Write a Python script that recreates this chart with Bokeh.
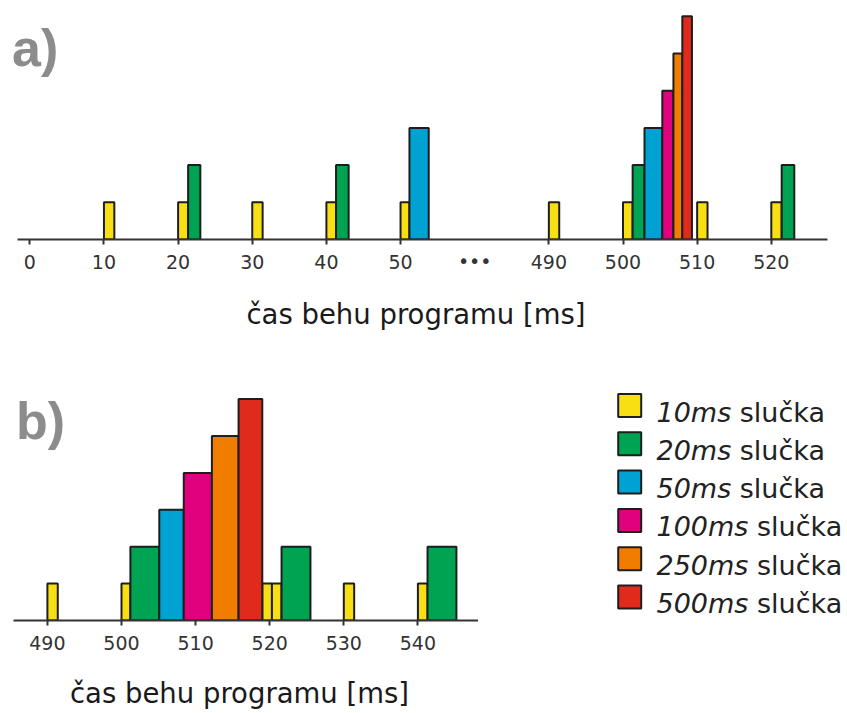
from bokeh.plotting import figure
from bokeh.layouts import column, row
from bokeh.models import ColumnDataSource, FixedTicker, Label, Range1d, LinearAxis
from bokeh.core.properties import value
from bokeh.embed import file_html
from bokeh.resources import INLINE

# ---------------- data ----------------
loop_names = ["10ms", "20ms", "50ms", "100ms", "250ms", "500ms"]
loop_colors = ["#F7DF14", "#00A352", "#00A2D3", "#E1007E", "#F07D00", "#DF2A1C"]
loop_levels = [1, 2, 3, 4, 5, 6]

# panel a) start / end times of each run [ms]
a_10_start = [10.0, 20.0, 30.0, 40.0, 50.0, 490.0, 500.0, 510.0, 520.0]
a_10_end = [11.4, 21.35, 31.4, 41.3, 51.2, 491.4, 501.3, 511.4, 521.4]
a_20_start = [21.35, 41.3, 501.3, 521.4]
a_20_end = [23.0, 43.0, 502.9, 523.1]
a_50_start = [51.2, 502.9]
a_50_end = [53.8, 505.3]
a_100_start = [505.3]
a_100_end = [506.8]
a_250_start = [506.8]
a_250_end = [508.0]
a_500_start = [508.0]
a_500_end = [509.3]
a_ticks = [0, 10, 20, 30, 40, 50, 490, 500, 510, 520]
a_break_real = 490   # first time after the axis break
a_break_shown = 70   # where that time is drawn
a_break_mark = "\u2022\u2022\u2022"

# panel b) start / end times of each run [ms]
b_10_start = [490.0, 500.0, 519.0, 520.3, 530.0, 540.0]
b_10_end = [491.4, 501.2, 520.3, 521.6, 531.4, 541.3]
b_20_start = [501.2, 521.6, 541.3]
b_20_end = [505.1, 525.5, 545.2]
b_50_start = [505.1]
b_50_end = [508.4]
b_100_start = [508.4]
b_100_end = [512.2]
b_250_start = [512.2]
b_250_end = [515.8]
b_500_start = [515.8]
b_500_end = [519.0]
b_ticks = [490, 500, 510, 520, 530, 540]

x_label = "čas behu programu [ms]"
legend_suffix = "slučka"

a_series = [(a_10_start, a_10_end), (a_20_start, a_20_end), (a_50_start, a_50_end),
            (a_100_start, a_100_end), (a_250_start, a_250_end), (a_500_start, a_500_end)]
b_series = [(b_10_start, b_10_end), (b_20_start, b_20_end), (b_50_start, b_50_end),
            (b_100_start, b_100_end), (b_250_start, b_250_end), (b_500_start, b_500_end)]


def shown(t):
    return t if t < a_break_real else t - a_break_real + a_break_shown


FONT_NAME = "DejaVu Sans"
FONT = value(FONT_NAME)
AX_COL = "#333333"
OUT = "#1e1e1e"
TICK_FS = 19
TICK_BOX = 22   # height of one tick-label line

# ---------------- layout (page pixels) ----------------
W = 847
HA, HB = 348, 365
WB = 478            # panel b width; the legend fills the rest
A_RIGHT = 16        # right border of panel a
B_TOP, B_BOTTOM = 375, 620   # frame of panel b (page y)


def ax_a(px):
    return (px - 29.3) / 7.415


def ay_a(py):
    return (239 - py) / 37.2


def ax_b(px):
    return 490 + (px - 46.9) / 7.41


def ay_b(py):
    return (B_BOTTOM - py) / 36.9


def add_axes(p, ticks, labels, extra, line_lo, line_hi, label_standoff):
    # axis 1: rule, tick marks and tick labels
    a1 = p.xaxis[0]
    a1.ticker = FixedTicker(ticks=ticks)
    a1.major_label_overrides = dict(zip(ticks, labels))
    a1.bounds = (line_lo, line_hi)
    a1.axis_line_width = 2
    a1.axis_line_color = AX_COL
    a1.major_tick_line_width = 2
    a1.major_tick_line_color = AX_COL
    a1.major_tick_out = 5
    a1.major_tick_in = 0
    a1.minor_tick_line_color = None
    a1.major_label_text_font = FONT_NAME
    a1.major_label_text_font_size = f"{TICK_FS}px"
    a1.major_label_text_color = AX_COL
    a1.major_label_standoff = 10
    # axis 2: no rule; carries the axis-break mark (on the tick-label row) and the title
    a2 = LinearAxis(ticker=FixedTicker(ticks=list(extra.keys())),
                    major_label_overrides=extra)
    a2.axis_line_color = None
    a2.major_tick_line_color = None
    a2.minor_tick_line_color = None
    a2.major_tick_out = 0
    a2.major_tick_in = 0
    a2.major_label_text_font = FONT_NAME
    a2.major_label_text_font_size = f"{TICK_FS}px"
    a2.major_label_text_color = AX_COL
    a2.major_label_standoff = -TICK_BOX
    a2.axis_label = x_label
    a2.axis_label_text_font = FONT_NAME
    a2.axis_label_text_font_size = "27.5px"
    a2.axis_label_text_font_style = "normal"
    a2.axis_label_text_color = "#1a1a1a"
    a2.axis_label_standoff = label_standoff
    p.add_layout(a2, "below")


def make_fig(w, h, xr, yr, top, bottom, right=0, xaxis="below"):
    p = figure(width=w, height=h, x_range=xr, y_range=yr, output_backend="svg",
               toolbar_location=None, y_axis_location=None, x_axis_location=xaxis,
               min_border_left=0, min_border_right=right,
               min_border_top=top, min_border_bottom=bottom)
    p.outline_line_color = None
    p.grid.visible = False
    p.background_fill_color = "white"
    p.border_fill_color = "white"
    return p


# ---------------- panel a ----------------
pa = make_fig(W, HA, Range1d(ax_a(0), ax_a(W - A_RIGHT)), Range1d(0, ay_a(14)), 14, HA - 239,
              right=A_RIGHT)
for (st, en), col, lev in zip(a_series, loop_colors, loop_levels):
    src = ColumnDataSource(dict(left=[shown(t) for t in st], right=[shown(t) for t in en],
                                top=[lev] * len(st)))
    pa.quad(left="left", right="right", bottom=0, top="top", source=src,
            fill_color=col, line_color=OUT, line_width=2)
break_pos = (shown(a_ticks[5]) + shown(a_ticks[6])) / 2
add_axes(pa, [shown(t) for t in a_ticks], [str(t) for t in a_ticks], {break_pos: a_break_mark},
         ax_a(16.7), ax_a(826.7), 23)
pa.add_layout(Label(x=ax_a(11.5), y=ay_a(47), text="a)", text_font="Liberation Sans",
                    text_font_style="bold", text_font_size="52px", text_color="#8c8c8c",
                    text_baseline="alphabetic"))

# ---------------- panel b ----------------
pb = make_fig(WB, HB, Range1d(ax_b(0), ax_b(WB)), Range1d(0, ay_b(B_TOP)),
              B_TOP - HA, HA + HB - B_BOTTOM)
for (st, en), col, lev in zip(b_series, loop_colors, loop_levels):
    src = ColumnDataSource(dict(left=st, right=en, top=[lev] * len(st)))
    pb.quad(left="left", right="right", bottom=0, top="top", source=src,
            fill_color=col, line_color=OUT, line_width=2)
add_axes(pb, b_ticks, [str(t) for t in b_ticks], {b_ticks[0]: ""}, ax_b(13.3), ax_b(478), 24)
pb.add_layout(Label(x=ax_b(15.5), y=ay_b(420), text="b)", text_font="Liberation Sans",
                    text_font_style="bold", text_font_size="52px", text_color="#8c8c8c",
                    text_baseline="alphabetic"))

# ---------------- legend (own figure; period in italics) ----------------
# same borders as panel b, so that its frame lines up; range = page pixels
pl = make_fig(W - WB, HB, Range1d(WB, W), Range1d(B_BOTTOM, B_TOP),
              B_TOP - HA, HA + HB - B_BOTTOM, xaxis=None)
LEG_FS = 27
row_y = [405 + 38.3 * i for i in range(len(loop_names))]
pl.scatter(x=[629.2] * len(loop_names), y=row_y, marker="square",
           size=23, fill_color=loop_colors, line_color=OUT, line_width=2)
pl.text(x=[656] * len(loop_names), y=[y + 6.5 for y in row_y], text=loop_names,
        text_font=FONT, text_font_style="italic", text_font_size=f"{LEG_FS}px",
        text_color="#222222", text_baseline="alphabetic", text_align="left")
suffix_x = [656 + LEG_FS * (0.636 * (len(n) - 2) + 0.974 + 0.521 + 0.318) for n in loop_names]
pl.text(x=suffix_x, y=[y + 6.5 for y in row_y], text=[legend_suffix] * len(loop_names),
        text_font=FONT, text_font_size=f"{LEG_FS}px",
        text_color="#222222", text_baseline="alphabetic", text_align="left")

layout = column(pa, row(pb, pl, spacing=0), spacing=0)
open("out.html", "w").write(file_html(layout, INLINE))
